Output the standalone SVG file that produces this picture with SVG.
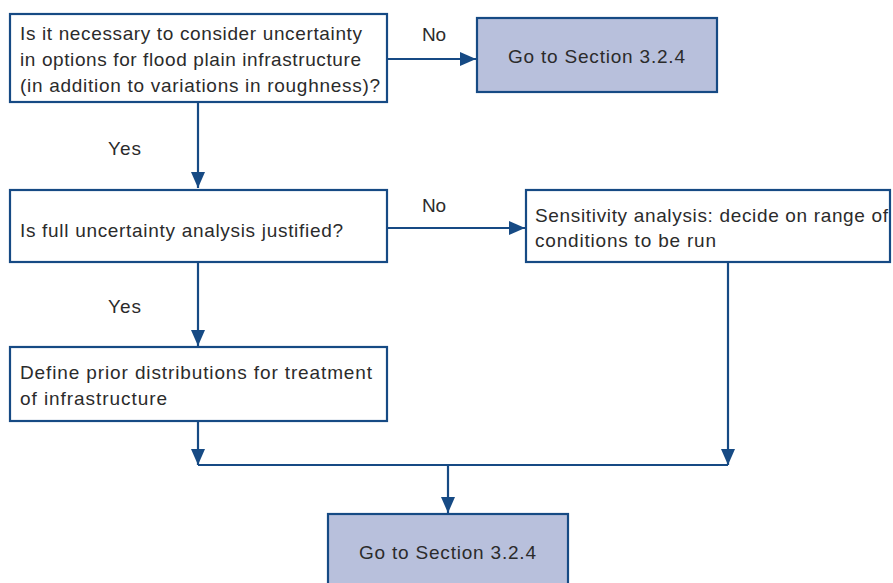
<svg xmlns="http://www.w3.org/2000/svg" width="893" height="583" viewBox="0 0 893 583">
  <style>
    .box { fill: #ffffff; stroke: #164a84; stroke-width: 2.2; }
    .goto { fill: #b8c0dc; stroke: #164a84; stroke-width: 2.2; }
    .txt { font-family: "Liberation Sans", Arial, sans-serif; font-size: 19px; fill: #2b2b2b; }
    .line { fill: none; stroke: #164a84; stroke-width: 2.2; }
  </style>
  <defs>
    <marker id="arrow" viewBox="0 0 16 14" refX="16" refY="7" markerWidth="16" markerHeight="14" markerUnits="userSpaceOnUse" orient="auto">
      <path d="M0,0 L16,7 L0,14 Z" fill="#164a84"/>
    </marker>
  </defs>

  <!-- connectors -->
  <g id="connectors">
    <path class="line" d="M387,59 H476" marker-end="url(#arrow)"/>
    <path class="line" d="M198,102 V188" marker-end="url(#arrow)"/>
    <path class="line" d="M387,228 H525" marker-end="url(#arrow)"/>
    <path class="line" d="M198,262 V346" marker-end="url(#arrow)"/>
    <path class="line" d="M198,421 V465"  marker-end="url(#arrow)"/>
    <path class="line" d="M728,262 V465" marker-end="url(#arrow)"/>
    <path class="line" d="M198,465 H728"/>
    <path class="line" d="M448,465 V513" marker-end="url(#arrow)"/>
    <text class="txt" x="422" y="41" textLength="24">No</text>
    <text class="txt" x="422" y="212" textLength="24">No</text>
    <text class="txt" x="108" y="155" textLength="33">Yes</text>
    <text class="txt" x="108" y="313" textLength="33">Yes</text>
  </g>

  <g id="q-infrastructure">
    <rect class="box" x="10" y="14" width="377" height="88"/>
    <text class="txt" x="20" y="39.5" textLength="342">Is it necessary to consider uncertainty</text>
    <text class="txt" x="20" y="65.5" textLength="341">in options for flood plain infrastructure</text>
    <text class="txt" x="20" y="91.5" textLength="360">(in addition to variations in roughness)?</text>
  </g>

  <g id="goto-top">
    <rect class="goto" x="477" y="18" width="240" height="74"/>
    <text class="txt" x="508" y="62.5" textLength="177">Go to Section 3.2.4</text>
  </g>

  <g id="q-full-analysis">
    <rect class="box" x="10" y="190" width="377" height="72"/>
    <text class="txt" x="20" y="236.5" textLength="323">Is full uncertainty analysis justified?</text>
  </g>

  <g id="sensitivity">
    <rect class="box" x="526" y="190" width="364" height="72"/>
    <text class="txt" x="535" y="221.5" textLength="353">Sensitivity analysis: decide on range of</text>
    <text class="txt" x="535" y="247" textLength="181">conditions to be run</text>
  </g>

  <g id="prior-distributions">
    <rect class="box" x="10" y="347" width="377" height="74"/>
    <text class="txt" x="20" y="378.5" textLength="352">Define prior distributions for treatment</text>
    <text class="txt" x="20" y="404.5" textLength="147">of infrastructure</text>
  </g>

  <g id="goto-bottom">
    <rect class="goto" x="328" y="514" width="240" height="80"/>
    <text class="txt" x="359" y="558.5" textLength="177">Go to Section 3.2.4</text>
  </g>
</svg>
